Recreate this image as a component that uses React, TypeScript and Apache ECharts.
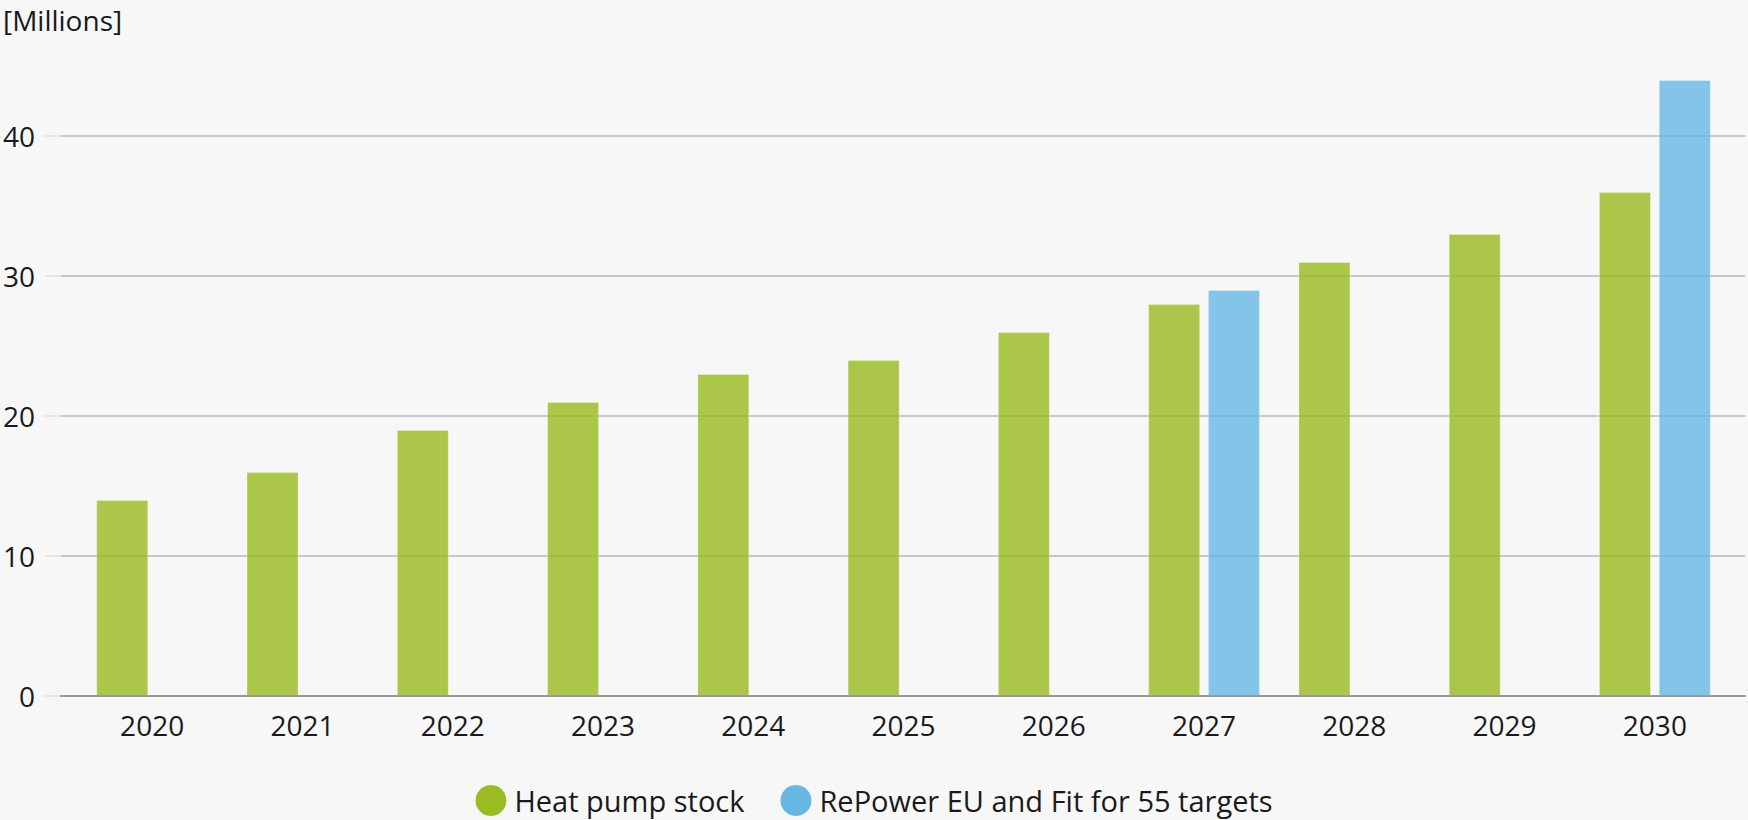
import React, { useEffect, useRef } from "react";
import * as echarts from "echarts";

const years = ["2020", "2021", "2022", "2023", "2024", "2025", "2026", "2027", "2028", "2029", "2030"];
const heatPumpStock = [14, 16, 19, 21, 23, 24, 26, 28, 31, 33, 36];
const repowerTargets = [null, null, null, null, null, null, null, 29, null, null, 44];
const yTicks = { min: 0, max: 40, interval: 10 };
const unitLabel = "[Millions]";
const seriesNames = ["Heat pump stock", "RePower EU and Fit for 55 targets"];

const GREEN = "#9bbb22";
const BLUE = "#65b8e4";
const TEXT = "#1a1a1a";
const FONT = "Open Sans";

export default function App() {
  const ref = useRef<HTMLDivElement>(null);
  useEffect(() => {
    if (!ref.current) return;
    const chart = echarts.init(ref.current, null, { renderer: "svg" });
    const gridTop = 136;
    const gridBottom = 124;
    chart.setOption({
      animation: false,
      backgroundColor: "#f7f7f7",
      textStyle: { fontFamily: FONT },
      graphic: [
        {
          type: "text",
          left: 3,
          top: 6,
          style: { text: unitLabel, fontSize: 28, fill: TEXT, fontFamily: FONT },
        },
      ],
      legend: {
        left: "center",
        top: 785,
        padding: 0,
        icon: "circle",
        itemWidth: 31,
        itemHeight: 31,
        itemGap: 36,
        textStyle: { fontSize: 29, lineHeight: 31, color: TEXT, fontFamily: FONT, padding: [0, 0, 0, 3] },
        data: [
          { name: seriesNames[0], itemStyle: { color: GREEN, opacity: 1, borderWidth: 0 } },
          { name: seriesNames[1], itemStyle: { color: BLUE, opacity: 1, borderWidth: 0 } },
        ],
      },
      grid: [
        { left: 61, right: 3, top: gridTop, bottom: gridBottom },
        { left: 77, right: 18, top: gridTop, bottom: gridBottom },
      ],
      xAxis: [
        {
          type: "category",
          gridIndex: 0,
          data: [""],
          axisLine: { show: true, lineStyle: { color: "#9a9a9a", width: 2 } },
          axisTick: { show: false },
          axisLabel: { show: false },
          z: 5,
        },
        {
          type: "category",
          gridIndex: 1,
          data: years,
          axisLine: { show: false },
          axisTick: { show: false },
          axisLabel: { fontSize: 28, color: TEXT, fontFamily: FONT, margin: 15 },
        },
      ],
      yAxis: [
        {
          type: "value",
          gridIndex: 0,
          min: yTicks.min,
          max: yTicks.max,
          interval: yTicks.interval,
          axisLine: { show: false },
          axisTick: { show: true, length: 16, lineStyle: { color: "#e6e6e6", width: 2 } },
          axisLabel: { fontSize: 28, color: TEXT, fontFamily: FONT, margin: 26 },
          splitLine: { lineStyle: { color: "#c8c8c8", width: 2 } },
        },
        {
          type: "value",
          gridIndex: 1,
          min: yTicks.min,
          max: yTicks.max,
          interval: yTicks.interval,
          show: false,
          splitLine: { show: false },
        },
      ],
      series: [
        {
          name: seriesNames[0],
          type: "bar",
          xAxisIndex: 1,
          yAxisIndex: 1,
          data: heatPumpStock,
          barWidth: 52,
          barGap: "15%",
          clip: false,
          z: 3,
          itemStyle: {
            color: GREEN,
            opacity: 0.82,
            borderColor: "rgba(255,255,255,0.35)",
            borderWidth: 1,
          },
        },
        {
          name: seriesNames[1],
          type: "bar",
          xAxisIndex: 1,
          yAxisIndex: 1,
          data: repowerTargets,
          barWidth: 52,
          barGap: "15%",
          clip: false,
          z: 3,
          itemStyle: {
            color: BLUE,
            opacity: 0.8,
            borderColor: "rgba(255,255,255,0.35)",
            borderWidth: 1,
          },
        },
      ],
    });
    return () => chart.dispose();
  }, []);
  return (
    <div
      ref={ref}
      style={{ position: "fixed", left: 0, top: 0, width: 1748, height: 820, background: "#f7f7f7" }}
    />
  );
}
